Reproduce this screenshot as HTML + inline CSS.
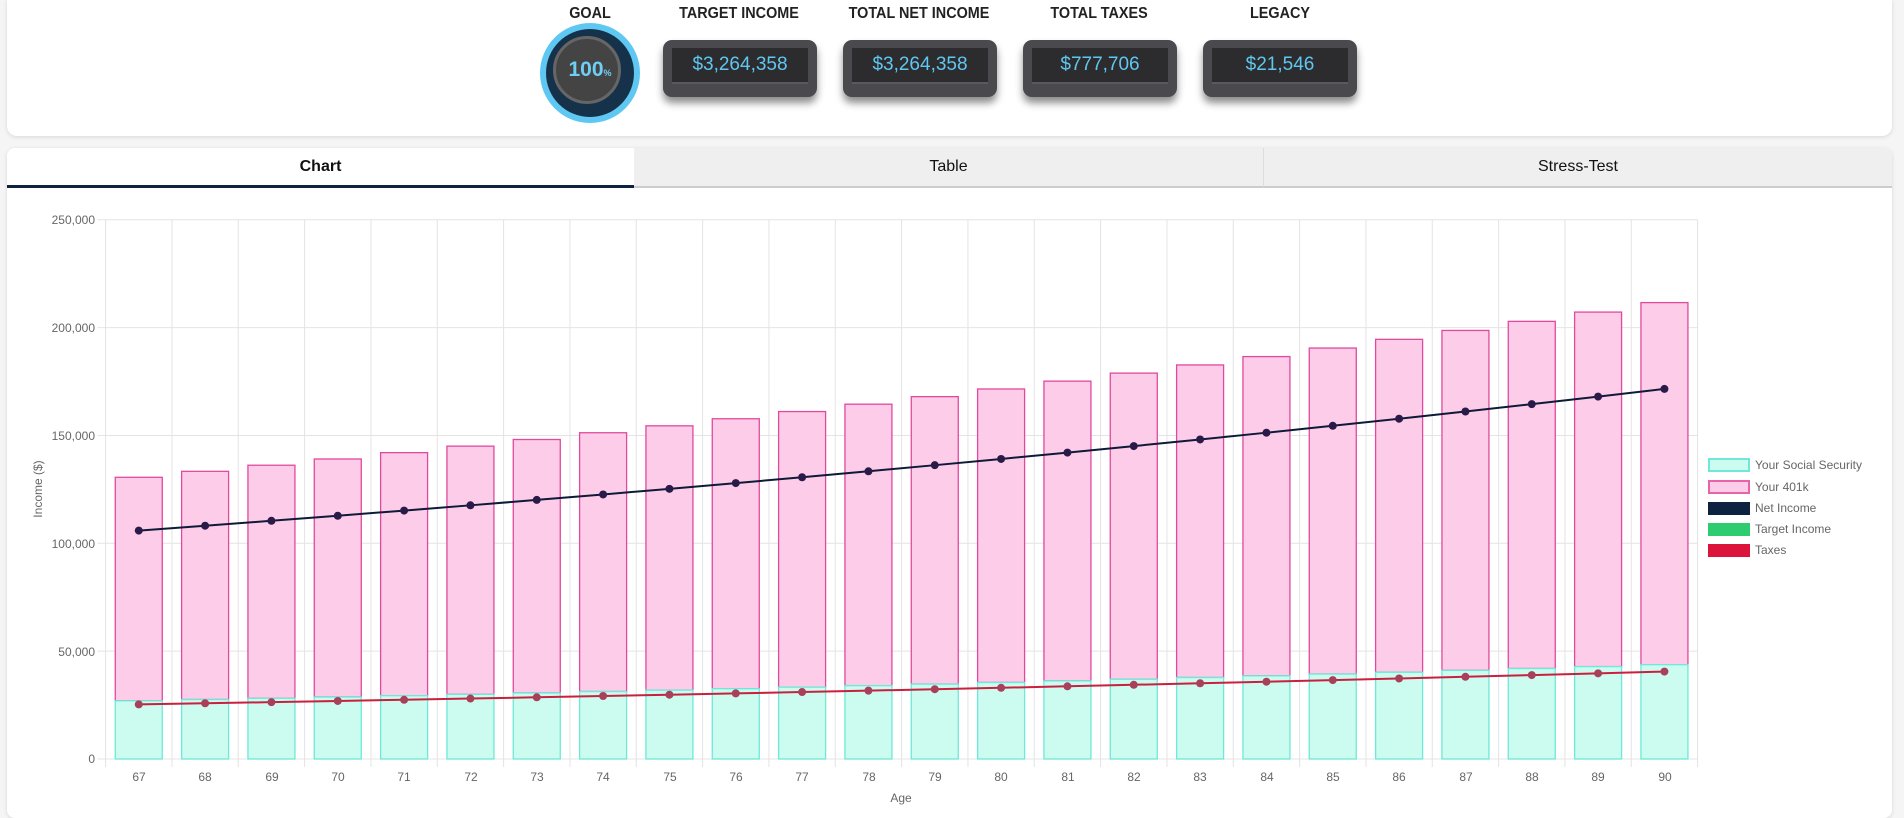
<!DOCTYPE html>
<html><head><meta charset="utf-8"><style>
body{margin:0;width:1904px;height:807px;background:#f5f5f5;font-family:"Liberation Sans",Arial,sans-serif;overflow:hidden;position:relative}
.top{position:absolute;left:7px;top:0;width:1885px;height:136px;background:#fff;border-radius:0 0 10px 10px;box-shadow:0 1px 4px rgba(0,0,0,.12)}
.lbl{position:absolute;top:5px;font-weight:bold;font-size:16px;color:#222;transform:translateX(-50%) scaleX(.9);white-space:nowrap}
.box{position:absolute;top:40px;width:154px;height:57px;margin-left:-77px;border-radius:9px;background:#4a4a4e;box-shadow:0 6px 8px rgba(0,0,0,.45)}
.box div{position:absolute;left:9px;top:8px;right:9px;height:34px;background:#2c2c2e;border-bottom:2px solid #5a5a5e;color:#5fc7f0;font-size:19px;text-align:center;line-height:34px}
.goal{position:absolute;left:540px;top:23px;width:100px;height:100px;border-radius:50%;background:#5ec8f2}
.goal .r2{position:absolute;left:6px;top:6px;width:88px;height:88px;border-radius:50%;background:#16324a}
.goal .r3{position:absolute;left:13px;top:13px;width:62px;height:62px;border-radius:50%;background:#444;border:3px solid #666}
.goal .t{position:absolute;left:0;top:35px;width:100px;text-align:center;color:#6ecff5;font-weight:bold;font-size:21px}
.goal .t small{font-size:9px}
.card{position:absolute;left:7px;top:148px;width:1885px;height:670px;background:#fff;border-radius:8px;box-shadow:0 1px 4px rgba(0,0,0,.12)}
.tab{position:absolute;top:0;height:40px;line-height:38px;text-align:center;font-size:16px;color:#111;background:#efefef;border-bottom:2px solid #ccc;box-sizing:border-box}
</style></head><body>
<div class="top">
<div class="lbl" style="left:583px">GOAL</div>
<div class="lbl" style="left:732px">TARGET INCOME</div>
<div class="lbl" style="left:912px">TOTAL NET INCOME</div>
<div class="lbl" style="left:1092px">TOTAL TAXES</div>
<div class="lbl" style="left:1273px">LEGACY</div>
<div class="goal" style="left:533px"><div class="r2"></div><div class="r3"></div><div class="t">100<small>%</small></div></div>
<div class="box" style="left:733px"><div>$3,264,358</div></div>
<div class="box" style="left:913px"><div>$3,264,358</div></div>
<div class="box" style="left:1093px"><div>$777,706</div></div>
<div class="box" style="left:1273px"><div>$21,546</div></div>
</div>
<div class="card">
<div class="tab" style="left:0;width:627px;background:#fff;font-weight:bold;border-bottom:3px solid #0d2240;border-radius:8px 0 0 0">Chart</div>
<div class="tab" style="left:627px;width:630px;border-right:1px solid #ddd">Table</div>
<div class="tab" style="left:1257px;width:628px;border-radius:0 8px 0 0">Stress-Test</div>
</div>
<svg id="s" width="1904" height="807" style="position:absolute;left:0;top:0" font-family="Liberation Sans, Arial, sans-serif">
<g id="grid"></g><g id="bars"></g><g id="lines"></g>
<g font-size="12" fill="#666" text-anchor="end">
<text x="95" y="224">250,000</text><text x="95" y="332">200,000</text><text x="95" y="440">150,000</text>
<text x="95" y="548">100,000</text><text x="95" y="656">50,000</text><text x="95" y="763">0</text>
</g>
<text x="42" y="489" font-size="12" fill="#666" text-anchor="middle" transform="rotate(-90 42 489)">Income ($)</text>
<g id="xl" font-size="12" fill="#666" text-anchor="middle">
<text x="139" y="781">67</text><text x="205" y="781">68</text><text x="272" y="781">69</text><text x="338" y="781">70</text><text x="404" y="781">71</text><text x="471" y="781">72</text><text x="537" y="781">73</text><text x="603" y="781">74</text><text x="670" y="781">75</text><text x="736" y="781">76</text><text x="802" y="781">77</text><text x="869" y="781">78</text><text x="935" y="781">79</text><text x="1001" y="781">80</text><text x="1068" y="781">81</text><text x="1134" y="781">82</text><text x="1200" y="781">83</text><text x="1267" y="781">84</text><text x="1333" y="781">85</text><text x="1399" y="781">86</text><text x="1466" y="781">87</text><text x="1532" y="781">88</text><text x="1598" y="781">89</text><text x="1665" y="781">90</text>
</g>
<text x="901" y="802" font-size="12" fill="#666" text-anchor="middle">Age</text>
<g font-size="12" fill="#666">
<rect x="1709" y="459" width="40" height="12" fill="#ccfbf0" stroke="#6ee8d8" stroke-width="2"/><text x="1755" y="469">Your Social Security</text>
<rect x="1709" y="481" width="40" height="12" fill="#fdcce8" stroke="#e565a8" stroke-width="2"/><text x="1755" y="491">Your 401k</text>
<rect x="1708" y="502" width="42" height="13" fill="#0d2240"/><text x="1755" y="512">Net Income</text>
<rect x="1708" y="523" width="42" height="13" fill="#2ecc71"/><text x="1755" y="533">Target Income</text>
<rect x="1708" y="544" width="42" height="13" fill="#dc143c"/><text x="1755" y="554">Taxes</text>
</g>
</svg>
<script>
var L=105.6,R=1697.6,Y0=759,K=2.157,W=(R-L)/24,ns="http://www.w3.org/2000/svg";
function el(p,t,a){var e=document.createElementNS(ns,t);for(var k in a)e.setAttribute(k,a[k]);document.getElementById(p).appendChild(e);}
for(var i=0;i<=24;i++){var x=L+i*W;el("grid","line",{x1:x,x2:x,y1:219.8,y2:767,stroke:"#e4e4e4"});}
for(var j=0;j<=5;j++){var y=Y0-j*50*K;el("grid","line",{x1:L-8,x2:R,y1:y,y2:y,stroke:"#e4e4e4"});}
var net=[],tax=[];
for(var i=0;i<24;i++){var g=Math.pow(1.0212,i),ss=27*g,tot=130.6*g,cx=L+(i+.5)*W,bw=47;
el("bars","rect",{x:cx-bw/2,y:Y0-tot*K,width:bw,height:(tot-ss)*K,fill:"#fdcce8",stroke:"#e04a9e","stroke-width":1.3});
el("bars","rect",{x:cx-bw/2,y:Y0-ss*K,width:bw,height:ss*K,fill:"#ccfbf0",stroke:"#6ee8d8","stroke-width":1.3});
net.push([cx,Y0-105.9*g*K]);tax.push([cx,Y0-25.3*Math.pow(1.0207,i)*K]);}
el("lines","polyline",{points:tax.join(" "),fill:"none",stroke:"#c8203e","stroke-width":2});
el("lines","polyline",{points:net.join(" "),fill:"none",stroke:"#0d1a38","stroke-width":2});
tax.forEach(function(p){el("lines","circle",{cx:p[0],cy:p[1],r:4,fill:"#a8405a"});});
net.forEach(function(p){el("lines","circle",{cx:p[0],cy:p[1],r:4,fill:"#2a1a4a"});});
</script>
</body></html>
